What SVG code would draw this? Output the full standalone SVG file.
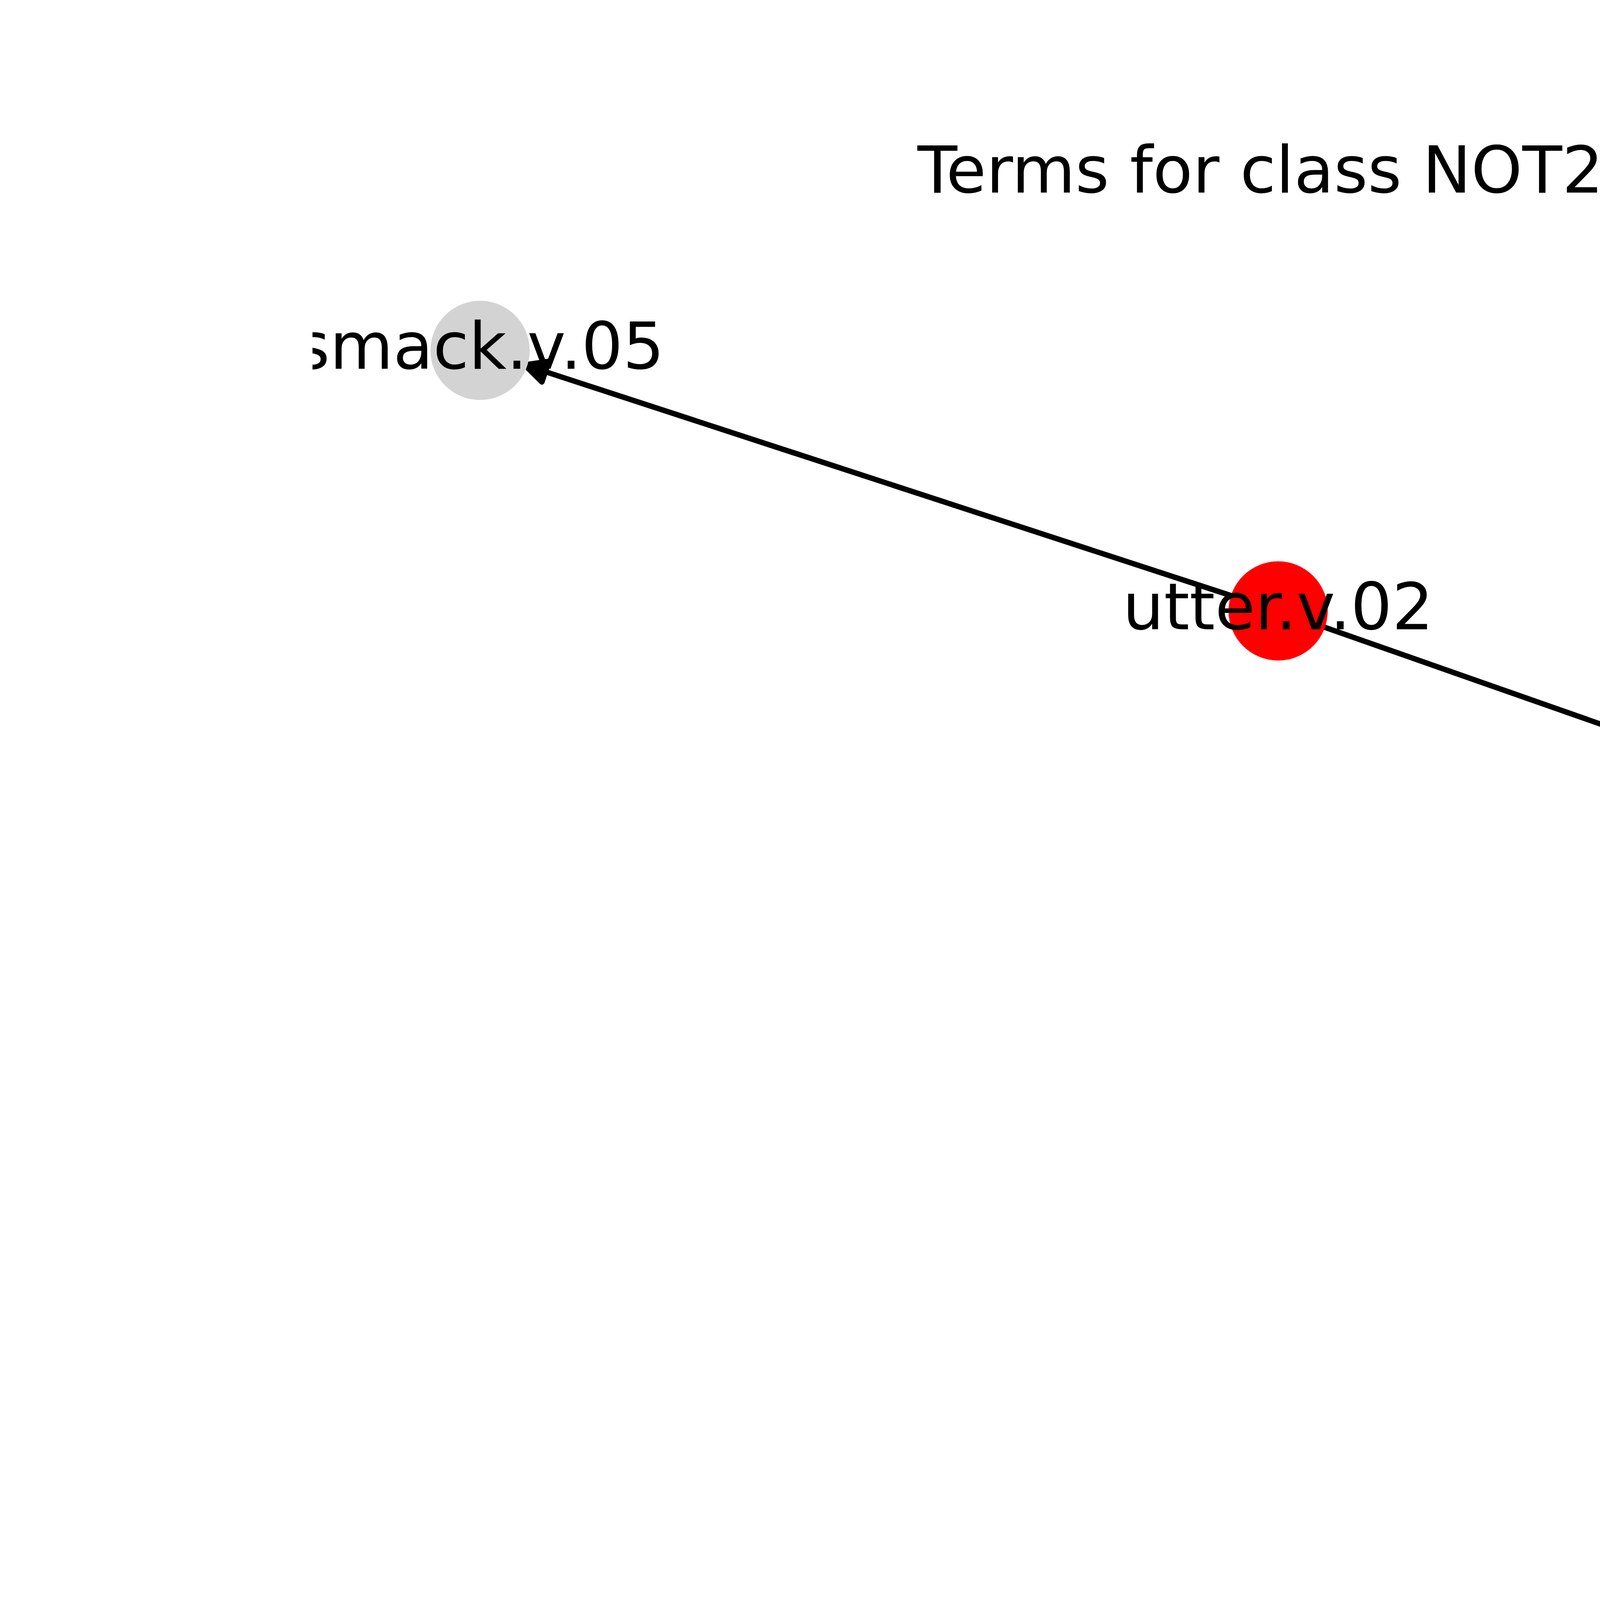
<svg xmlns="http://www.w3.org/2000/svg" width="6400" height="4800" viewBox="0 0 6400 4800">
<style>
  .lbl { font-family: "DejaVu Sans", "Liberation Sans", sans-serif; font-size: 166.67px; fill: #000000; text-anchor: middle; }
  .edge { stroke: #000000; stroke-width: 13.9; fill: none; stroke-linecap: round; }
  .gray { fill: #d3d3d3; }
  .red { fill: #ff0000; }
</style>
<defs>
  <clipPath id="axclip"><rect x="800" y="576" width="4960" height="3648"/></clipPath>
  <marker id="arrow" markerUnits="userSpaceOnUse" orient="auto" refX="0" refY="0" markerWidth="100" markerHeight="100" overflow="visible">
    <path d="M0,-27.8 L55.6,0 L0,27.8 Z" fill="#000000" stroke="#000000" stroke-width="13.9" stroke-linejoin="round"/>
  </marker>
</defs>
<rect x="0" y="0" width="6400" height="4800" fill="#ffffff"/>
<text class="lbl" x="3280" y="493">Terms for class NOT23</text>
<g clip-path="url(#axclip)">
  <g id="edges">
    <line class="edge" x1="3157.9" y1="1526.8" x2="1396.0" y2="951.5" marker-end="url(#arrow)"/>
    <line class="edge" x1="3385.2" y1="1603.7" x2="5163.3" y2="2227.9" marker-end="url(#arrow)"/>
    <line class="edge" x1="5310.3" y1="2404.5" x2="5093.4" y2="3777.6" marker-end="url(#arrow)"/>
  </g>
  <g id="node-smack">
    <circle class="gray" cx="1229" cy="897" r="127"/>
  </g>
  <g id="node-utter">
    <circle class="red" cx="3272" cy="1564" r="127"/>
  </g>
  <g id="node-peep">
    <circle class="gray" cx="5329" cy="2286" r="127"/>
  </g>
  <g id="node-chitter">
    <circle class="gray" cx="5066" cy="3951" r="127"/>
  </g>
  <g id="labels">
    <text class="lbl" x="1229" y="944">smack.v.05</text>
    <text class="lbl" x="3272" y="1611">utter.v.02</text>
    <text class="lbl" x="5329" y="2333">peep.v.03</text>
    <text class="lbl" x="5066" y="3998">chitter.v.01</text>
  </g>
</g>
</svg>
